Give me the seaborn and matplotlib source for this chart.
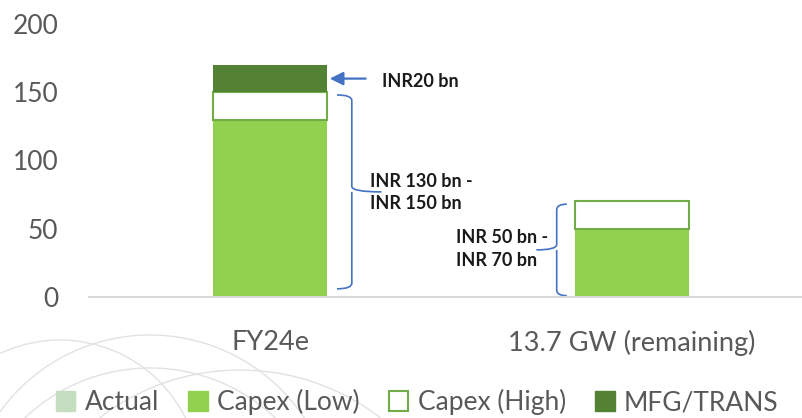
import numpy as np
import pandas as pd
import seaborn as sns
import matplotlib.pyplot as plt
from matplotlib.patches import Patch, Ellipse, PathPatch
from matplotlib.path import Path

# chart data
categories = ['FY24e', '13.7 GW (remaining)']
actual = [0, 0]
capex_low = [130, 50]
capex_high = [20, 20]      # increment on top of low
mfg_trans = [20, 0]

series_names = ['Actual', 'Capex (Low)', 'Capex (High)', 'MFG/TRANS']
y_ticks = [0, 50, 100, 150, 200]

C_ACTUAL = '#C5DEC0'
C_LOW = '#92D050'
C_HIGH_EDGE = '#70AD47'
C_MFG = '#548235'
C_BLUE = '#4472C4'
C_TEXT = '#595959'

sns.set_theme(style='white')
plt.rcParams['font.family'] = ['Lato', 'DejaVu Sans']

df = pd.DataFrame({'cat': categories, 'actual': actual, 'low': capex_low,
                   'high': capex_high, 'mfg': mfg_trans})
df['high_base'] = df['low']
df['mfg_base'] = df['low'] + df['high']

W, H = 802, 418
fig = plt.figure(figsize=(W / 100, H / 100), dpi=100)

# faint watermark arcs behind the chart (pixel centre / radius)
for cx, cy, r in [(150, 520, 185), (150, 550, 182), (240, 600, 230), (60, 480, 140)]:
    fig.patches.append(Ellipse((cx / W, 1 - cy / H), 2 * r / W, 2 * r / H,
                               transform=fig.transFigure, fill=False,
                               edgecolor='#E2E2E2', linewidth=1.0, zorder=0))

ax = fig.add_axes([89 / W, 121 / H, 724 / W, 273 / H])
ax.set_facecolor('none')

bw = 0.315
sns.barplot(data=df, x='cat', y='low', color=C_LOW, width=bw, ax=ax,
            saturation=1, linewidth=0)
sns.barplot(data=df, x='cat', y='high', bottom=df['high_base'], color='white', width=bw,
            ax=ax, saturation=1, edgecolor=C_HIGH_EDGE, linewidth=1.5)
sns.barplot(data=df, x='cat', y='mfg', bottom=df['mfg_base'], color=C_MFG, width=bw,
            ax=ax, saturation=1, linewidth=0)

ax.set_xlim(-0.5, 1.5)
ax.set_ylim(0, 200)
ax.set_yticks(y_ticks)
ax.set_xlabel('')
ax.set_ylabel('')
for s in ['top', 'left', 'right']:
    ax.spines[s].set_visible(False)
ax.spines['bottom'].set_color('#D9D9D9')
ax.spines['bottom'].set_linewidth(1.5)
ax.tick_params(axis='y', length=0, pad=22, labelsize=19, labelcolor=C_TEXT)
ax.tick_params(axis='x', length=0, pad=24, labelsize=19.5, labelcolor=C_TEXT)


def brace(ax, x, y0, y1, w, d):
    # curly brace; d=+1 points right, d=-1 points left
    ym = (y0 + y1) / 2
    r = 4
    xs = x + d * w / 2
    xt = x + d * w * 1.5
    verts = [(x, y1), (xs, y1), (xs, y1 - r),
             (xs, ym + r),
             (xs, ym), (xt, ym),
             (xs, ym), (xs, ym - r),
             (xs, y0 + r),
             (xs, y0), (x, y0)]
    codes = [Path.MOVETO, Path.CURVE3, Path.CURVE3,
             Path.LINETO,
             Path.CURVE3, Path.CURVE3,
             Path.MOVETO, Path.CURVE3,
             Path.LINETO,
             Path.CURVE3, Path.CURVE3]
    ax.add_patch(PathPatch(Path(verts, codes), fill=False, edgecolor=C_BLUE,
                           linewidth=1.2, clip_on=False))


hi0 = capex_low[0] + capex_high[0]
hi1 = capex_low[1] + capex_high[1]
brace(ax, 0.185, 6, hi0 - 2, 0.082, 1)
brace(ax, 1 - 0.18, 1, hi1 - 2, 0.056, -1)

ax.text(0.276, (6 + hi0) / 2 - 1.5, 'INR 130 bn -\nINR 150 bn', fontsize=13,
        fontweight='bold', color='#1A1A1A', va='center', ha='left', linespacing=1.4)
ax.text(0.514, (1 + hi1) / 2 - 0.5, 'INR 50 bn -\nINR 70 bn', fontsize=13,
        fontweight='bold', color='#1A1A1A', va='center', ha='left', linespacing=1.4)

mfg_mid = hi0 + mfg_trans[0] / 2
ax.annotate('', xy=(bw / 2, mfg_mid), xytext=(0.272, mfg_mid),
            arrowprops=dict(arrowstyle='-|>', color=C_BLUE, lw=1.6, mutation_scale=20))
ax.text(0.31, mfg_mid - 2, 'INR20 bn', fontsize=13, fontweight='bold',
        color='#1A1A1A', va='center', ha='left')

handles = [Patch(facecolor=C_ACTUAL, edgecolor=C_ACTUAL),
           Patch(facecolor=C_LOW, edgecolor=C_LOW),
           Patch(facecolor='white', edgecolor=C_HIGH_EDGE, linewidth=1.5),
           Patch(facecolor=C_MFG, edgecolor=C_MFG)]
leg = fig.legend(handles, series_names, loc='center', bbox_to_anchor=(0.52, 1 - 402 / H),
                 ncol=4, frameon=False, fontsize=19, handlelength=0.75, handleheight=0.75,
                 handletextpad=0.35, columnspacing=1.1, borderaxespad=0)
for t in leg.get_texts():
    t.set_color(C_TEXT)

fig.savefig('out.png', dpi=100)
